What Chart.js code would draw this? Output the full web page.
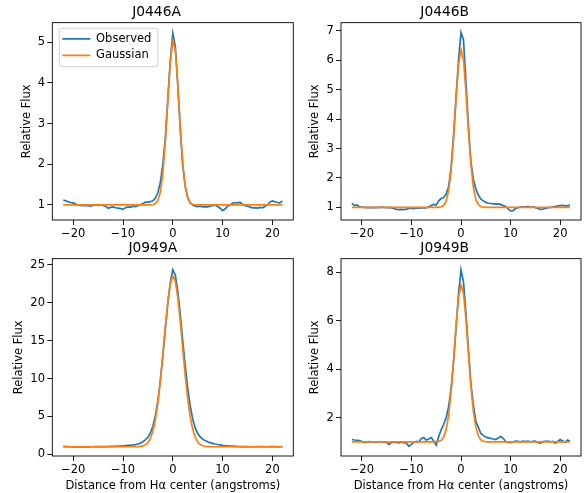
<!DOCTYPE html>
<html>
<head>
<meta charset="utf-8">
<script src="https://cdn.jsdelivr.net/npm/chart.js@4.4.1/dist/chart.umd.min.js"></script>
<style>
  body { margin: 0; background: #fff; }
  #fig { position: relative; width: 585px; height: 493px; overflow: hidden; background: #fff; }
  #fig canvas { position: absolute; }
</style>
</head>
<body>
<div id="fig">
  <canvas id="j0446a" width="300" height="240" style="left:0;top:0"></canvas>
  <canvas id="j0446b" width="297" height="240" style="left:288px;top:0"></canvas>
  <canvas id="j0949a" width="300" height="257" style="left:0;top:236px"></canvas>
  <canvas id="j0949b" width="297" height="257" style="left:288px;top:236px"></canvas>
</div>
<script>
// distance from H-alpha center (angstroms), shared by all four panels
const distance = [
  -22, -21.5, -21, -20.5, -20, -19.5, -19, -18.5, -18, -17.5,
  -17, -16.5, -16, -15.5, -15, -14.5, -14, -13.5, -13, -12.5,
  -12, -11.5, -11, -10.5, -10, -9.5, -9, -8.5, -8, -7.5,
  -7, -6.5, -6, -5.5, -5, -4.5, -4, -3.5, -3, -2.5,
  -2, -1.5, -1, -0.5, 0, 0.5, 1, 1.5, 2, 2.5,
  3, 3.5, 4, 4.5, 5, 5.5, 6, 6.5, 7, 7.5,
  8, 8.5, 9, 9.5, 10, 10.5, 11, 11.5, 12, 12.5,
  13, 13.5, 14, 14.5, 15, 15.5, 16, 16.5, 17, 17.5,
  18, 18.5, 19, 19.5, 20, 20.5, 21, 21.5, 22
];

// J0446A
const observedJ0446A = [
  1.12, 1.10, 1.08, 1.06, 1.05, 1.02, 1.00, 0.99, 0.98, 0.99,
  0.98, 0.97, 0.99, 1.00, 0.99, 1.00, 0.99, 0.97, 0.92, 0.94,
  0.95, 0.93, 0.92, 0.91, 0.89, 0.93, 0.95, 0.94, 0.97, 0.96,
  0.98, 1.01, 1.03, 1.07, 1.07, 1.08, 1.10, 1.17, 1.30, 1.55,
  2.00, 2.65, 3.60, 4.55, 5.22, 4.90, 3.95, 2.85, 1.95, 1.45,
  1.18, 1.05, 1.00, 0.97, 0.96, 0.97, 0.95, 0.96, 0.95, 0.97,
  0.98, 1.00, 0.96, 0.92, 0.86, 0.90, 0.97, 1.00, 1.04, 1.06,
  1.05, 1.06, 1.02, 0.98, 0.97, 0.95, 0.93, 0.93, 0.92, 0.94,
  0.93, 0.96, 1.00, 1.07, 1.10, 1.08, 1.06, 1.05, 1.10
];
const gaussianJ0446A = [
  1.00, 1.00, 1.00, 1.00, 1.00, 1.00, 1.00, 1.00, 1.00, 1.00,
  1.00, 1.00, 1.00, 1.00, 1.00, 1.00, 1.00, 1.00, 1.00, 1.00,
  1.00, 1.00, 1.00, 1.00, 1.00, 1.00, 1.00, 1.00, 1.00, 1.00,
  1.00, 1.00, 1.00, 1.00, 1.00, 1.00, 1.01, 1.03, 1.11, 1.31,
  1.77, 2.54, 3.56, 4.53, 5.03, 4.81, 3.98, 2.93, 2.03, 1.46,
  1.17, 1.05, 1.01, 1.00, 1.00, 1.00, 1.00, 1.00, 1.00, 1.00,
  1.00, 1.00, 1.00, 1.00, 1.00, 1.00, 1.00, 1.00, 1.00, 1.00,
  1.00, 1.00, 1.00, 1.00, 1.00, 1.00, 1.00, 1.00, 1.00, 1.00,
  1.00, 1.00, 1.00, 1.00, 1.00, 1.00, 1.00, 1.00, 1.00
];

// J0446B
const observedJ0446B = [
  1.14, 1.06, 1.08, 1.03, 1.01, 1.00, 0.99, 1.00, 0.99, 1.00,
  0.99, 1.00, 1.01, 1.00, 0.99, 1.00, 0.98, 0.96, 0.93, 0.92,
  0.93, 0.92, 0.94, 0.96, 0.97, 0.96, 0.98, 0.97, 0.98, 0.99,
  0.98, 1.02, 1.06, 1.10, 1.08, 1.22, 1.30, 1.33, 1.45, 1.70,
  2.35, 3.45, 4.75, 6.00, 6.95, 6.70, 5.25, 3.75, 2.55, 1.95,
  1.62, 1.42, 1.28, 1.22, 1.17, 1.14, 1.13, 1.12, 1.11, 1.12,
  1.10, 1.06, 1.03, 0.95, 0.88, 0.89, 0.96, 0.99, 1.01, 1.02,
  1.01, 1.03, 1.00, 1.02, 0.99, 0.96, 0.93, 0.94, 0.96, 0.98,
  1.00, 1.01, 1.03, 1.05, 1.06, 1.07, 1.05, 1.06, 1.07
];
const gaussianJ0446B = [
  1.00, 1.00, 1.00, 1.00, 1.00, 1.00, 1.00, 1.00, 1.00, 1.00,
  1.00, 1.00, 1.00, 1.00, 1.00, 1.00, 1.00, 1.00, 1.00, 1.00,
  1.00, 1.00, 1.00, 1.00, 1.00, 1.00, 1.00, 1.00, 1.00, 1.00,
  1.00, 1.00, 1.00, 1.00, 1.00, 1.01, 1.02, 1.07, 1.21, 1.56,
  2.25, 3.34, 4.67, 5.84, 6.37, 6.02, 4.93, 3.59, 2.44, 1.67,
  1.26, 1.09, 1.02, 1.01, 1.00, 1.00, 1.00, 1.00, 1.00, 1.00,
  1.00, 1.00, 1.00, 1.00, 1.00, 1.00, 1.00, 1.00, 1.00, 1.00,
  1.00, 1.00, 1.00, 1.00, 1.00, 1.00, 1.00, 1.00, 1.00, 1.00,
  1.00, 1.00, 1.00, 1.00, 1.00, 1.00, 1.00, 1.00, 1.00
];

// J0949A
const observedJ0949A = [
  1.04, 1.02, 1.01, 1.00, 0.99, 0.99, 0.98, 0.98, 0.99, 0.99,
  0.99, 1.00, 1.00, 1.01, 1.01, 1.01, 1.02, 1.02, 1.03, 1.04,
  1.05, 1.06, 1.08, 1.10, 1.12, 1.14, 1.17, 1.20, 1.24, 1.29,
  1.36, 1.48, 1.66, 1.91, 2.26, 2.81, 3.71, 5.06, 7.06, 9.76,
  12.96, 16.56, 19.96, 22.66, 24.36, 23.66, 21.56, 18.46, 14.96, 11.66,
  8.66, 6.36, 4.66, 3.46, 2.76, 2.31, 2.01, 1.81, 1.66, 1.54,
  1.44, 1.36, 1.30, 1.25, 1.20, 1.16, 1.13, 1.10, 1.08, 1.06,
  1.04, 1.03, 1.02, 1.01, 1.01, 1.00, 1.00, 1.00, 1.01, 1.01,
  1.01, 1.00, 1.00, 1.01, 1.01, 1.01, 1.00, 1.00, 1.01
];
const gaussianJ0949A = [
  1.00, 1.00, 1.00, 1.00, 1.00, 1.00, 1.00, 1.00, 1.00, 1.00,
  1.00, 1.00, 1.00, 1.00, 1.00, 1.00, 1.00, 1.00, 1.00, 1.00,
  1.00, 1.00, 1.00, 1.00, 1.00, 1.00, 1.00, 1.00, 1.00, 1.00,
  1.01, 1.04, 1.11, 1.25, 1.54, 2.09, 3.05, 4.57, 6.78, 9.70,
  13.17, 16.84, 20.15, 22.53, 23.50, 22.85, 20.73, 17.55, 13.91, 10.36,
  7.31, 4.95, 3.30, 2.25, 1.63, 1.29, 1.13, 1.05, 1.01, 1.00,
  1.00, 1.00, 1.00, 1.00, 1.00, 1.00, 1.00, 1.00, 1.00, 1.00,
  1.00, 1.00, 1.00, 1.00, 1.00, 1.00, 1.00, 1.00, 1.00, 1.00,
  1.00, 1.00, 1.00, 1.00, 1.00, 1.00, 1.00, 1.00, 1.00
];

// J0949B
const observedJ0949B = [
  1.10, 1.08, 1.07, 1.06, 1.02, 0.97, 1.00, 1.01, 0.99, 1.00,
  0.98, 1.01, 0.99, 1.00, 0.97, 0.90, 0.97, 0.99, 0.98, 0.96,
  0.99, 0.97, 0.95, 0.82, 0.90, 0.99, 1.02, 1.00, 1.14, 1.18,
  1.08, 1.12, 1.18, 1.04, 0.87, 1.22, 1.50, 1.72, 2.00, 2.45,
  3.20, 4.30, 5.70, 7.10, 8.10, 7.60, 6.30, 4.80, 3.40, 2.50,
  1.85, 1.60, 1.35, 1.27, 1.20, 1.17, 1.15, 1.12, 1.10, 1.16,
  1.22, 1.15, 1.02, 0.98, 0.97, 1.01, 1.03, 1.02, 1.00, 1.03,
  1.01, 1.03, 1.00, 1.02, 1.03, 0.98, 0.95, 1.01, 1.02, 1.03,
  1.00, 1.02, 0.95, 1.02, 1.10, 1.04, 0.99, 1.08, 1.03
];
const gaussianJ0949B = [
  1.00, 1.00, 1.00, 1.00, 1.00, 1.00, 1.00, 1.00, 1.00, 1.00,
  1.00, 1.00, 1.00, 1.00, 1.00, 1.00, 1.00, 1.00, 1.00, 1.00,
  1.00, 1.00, 1.00, 1.00, 1.00, 1.00, 1.00, 1.00, 1.00, 1.00,
  1.00, 1.00, 1.00, 1.00, 1.01, 1.02, 1.07, 1.20, 1.50, 2.09,
  3.05, 4.35, 5.79, 6.96, 7.48, 7.13, 6.06, 4.64, 3.28, 2.25,
  1.60, 1.25, 1.09, 1.03, 1.01, 1.00, 1.00, 1.00, 1.00, 1.00,
  1.00, 1.00, 1.00, 1.00, 1.00, 1.00, 1.00, 1.00, 1.00, 1.00,
  1.00, 1.00, 1.00, 1.00, 1.00, 1.00, 1.00, 1.00, 1.00, 1.00,
  1.00, 1.00, 1.00, 1.00, 1.00, 1.00, 1.00, 1.00, 1.00
];

// tick labels
const xTicks = [-20, -10, 0, 10, 20];
const yTicksJ0446A = [1, 2, 3, 4, 5];
const yTicksJ0446B = [1, 2, 3, 4, 5, 6, 7];
const yTicksJ0949A = [0, 5, 10, 15, 20, 25];
const yTicksJ0949B = [2, 4, 6, 8];

const BLUE = '#1f77b4';
const ORANGE = '#ff7f0e';
const FONT = 11.5;

Chart.defaults.font.family = "'DejaVu Sans', sans-serif";
Chart.defaults.font.size = FONT;
Chart.defaults.color = '#000';

// full box around the plot area, like matplotlib spines
const axesFrame = {
  id: 'axesFrame',
  afterDraw(chart) {
    const { ctx, chartArea: a } = chart;
    ctx.save();
    ctx.strokeStyle = '#000';
    ctx.lineWidth = 0.9;
    ctx.strokeRect(a.left, a.top, a.right - a.left, a.bottom - a.top);
    ctx.restore();
  }
};

// put the legend inside the axes (upper left) and draw its box
const legendBox = {
  id: 'legendBox',
  afterLayout(chart) {
    const lg = chart.legend;
    const a = chart.chartArea;
    lg.left = a.left + 5;
    lg.top = a.top + 5.5;
    lg.right = a.right;
    lg.bottom = a.bottom;
  },
  beforeDraw(chart) {
    const boxes = chart.legend.legendHitBoxes;
    if (!boxes || !boxes.length) return;
    const left = Math.min(...boxes.map(b => b.left)) - 3;
    const top = Math.min(...boxes.map(b => b.top)) - 4.9;
    const right = Math.max(...boxes.map(b => b.left + b.width)) + 6.5;
    const bottom = Math.max(...boxes.map(b => b.top + b.height)) + 5.5;
    const { ctx } = chart;
    ctx.save();
    ctx.beginPath();
    ctx.roundRect(left, top, right - left, bottom - top, 2.5);
    ctx.fillStyle = 'rgba(255,255,255,0.8)';
    ctx.fill();
    ctx.strokeStyle = '#cccccc';
    ctx.lineWidth = 0.9;
    ctx.stroke();
    ctx.restore();
  }
};

const minusSign = v => String(v).replace('-', '\u2212');

function makePanel(id, p) {
  const extra = [axesFrame];
  if (p.legend) extra.push(legendBox);
  return new Chart(document.getElementById(id), {
    type: 'line',
    data: {
      datasets: [
        {
          label: 'Observed',
          data: distance.map((x, i) => ({ x: x, y: p.observed[i] })),
          borderColor: BLUE,
          backgroundColor: BLUE,
          borderWidth: 1.7,
          pointRadius: 0,
          tension: 0,
          order: 2
        },
        {
          label: 'Gaussian',
          data: distance.map((x, i) => ({ x: x, y: p.gaussian[i] })),
          borderColor: ORANGE,
          backgroundColor: ORANGE,
          borderWidth: 1.7,
          pointRadius: 0,
          tension: 0,
          order: 1
        }
      ]
    },
    options: {
      responsive: false,
      animation: false,
      events: [],
      layout: { padding: { left: p.padLeft, right: p.padRight, top: 0, bottom: 0 } },
      plugins: {
        title: {
          display: true,
          text: p.title,
          color: '#000',
          font: { size: 13.8, weight: 'normal' },
          padding: { top: 3.9, bottom: 2.2 }
        },
        legend: p.legend ? {
          display: true,
          position: 'chartArea',
          align: 'start',
          labels: {
            usePointStyle: true,
            pointStyle: 'line',
            pointStyleWidth: 28,
            padding: 5,
            color: '#000',
            font: { size: FONT },
            sort: (a, b) => a.datasetIndex - b.datasetIndex
          }
        } : { display: false },
        tooltip: { enabled: false }
      },
      scales: {
        x: {
          type: 'linear',
          min: -24.2,
          max: 24.2,
          afterBuildTicks: s => { s.ticks = xTicks.map(v => ({ value: v })); },
          afterFit: s => { s.height = p.xHeight; },
          border: { display: false },
          grid: { display: true, drawOnChartArea: false, drawTicks: true, tickLength: 5, color: '#000', lineWidth: 0.9 },
          ticks: { padding: 2.5, color: '#000', maxRotation: 0, callback: minusSign },
          title: {
            display: !!p.xTitle,
            text: 'Distance from H\u03b1 center (angstroms)',
            color: '#000',
            font: { size: FONT },
            padding: { top: 0, bottom: 0 }
          }
        },
        y: {
          type: 'linear',
          min: p.yMin,
          max: p.yMax,
          afterBuildTicks: s => { s.ticks = p.yTicks.map(v => ({ value: v })); },
          afterFit: s => { s.width = p.yWidth; },
          border: { display: false },
          grid: { display: true, drawOnChartArea: false, drawTicks: true, tickLength: 5, color: '#000', lineWidth: 0.9 },
          ticks: { padding: 2.3, color: '#000', callback: minusSign },
          title: {
            display: true,
            text: 'Relative Flux',
            color: '#000',
            font: { size: FONT },
            padding: { top: 0, bottom: 0 }
          }
        }
      }
    },
    plugins: extra
  });
}

makePanel('j0446a', {
  title: 'J0446A', observed: observedJ0446A, gaussian: gaussianJ0446A,
  yTicks: yTicksJ0446A, yMin: 0.63, yMax: 5.48,
  padLeft: 19.8, yWidth: 32.5, padRight: 6.7, xHeight: 20, legend: true
});
makePanel('j0446b', {
  title: 'J0446B', observed: observedJ0446B, gaussian: gaussianJ0446B,
  yTicks: yTicksJ0446B, yMin: 0.57, yMax: 7.28,
  padLeft: 20.3, yWidth: 32.7, padRight: 4, xHeight: 20
});
makePanel('j0949a', {
  title: 'J0949A', observed: observedJ0949A, gaussian: gaussianJ0949A,
  yTicks: yTicksJ0949A, yMin: -0.22, yMax: 25.83,
  padLeft: 12.3, yWidth: 40.0, padRight: 6.7, xHeight: 37, xTitle: true
});
makePanel('j0949b', {
  title: 'J0949B', observed: observedJ0949B, gaussian: gaussianJ0949B,
  yTicks: yTicksJ0949B, yMin: 0.42, yMax: 8.56,
  padLeft: 20.3, yWidth: 32.7, padRight: 4, xHeight: 37, xTitle: true
});
</script>
</body>
</html>
